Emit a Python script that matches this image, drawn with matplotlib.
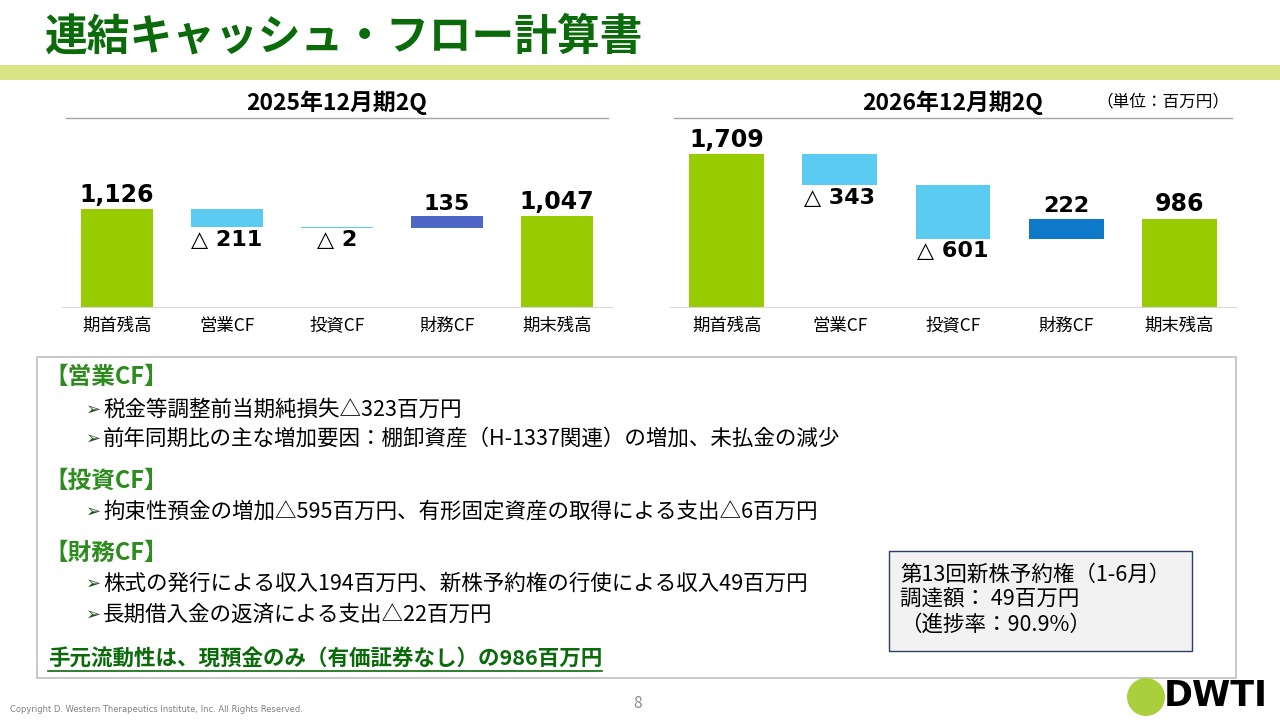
import matplotlib
matplotlib.use('Agg')
import matplotlib.pyplot as plt
from matplotlib.patches import Rectangle, Ellipse
from matplotlib.lines import Line2D

plt.rcParams['font.family'] = ['Noto Sans CJK JP', 'DejaVu Sans']

# data
cats = ['期首残高', '営業CF', '投資CF', '財務CF', '期末残高']
flows_2025 = [1126, -211, -2, 135, 1047]
flows_2026 = [1709, -343, -601, 222, 986]
period_titles = ['2025年12月期2Q', '2026年12月期2Q']

op_lines = ['税金等調整前当期純損失△323百万円',
            '前年同期比の主な増加要因：棚卸資産（H-1337関連）の増加、未払金の減少']
inv_lines = ['拘束性預金の増加△595百万円、有形固定資産の取得による支出△6百万円']
fin_lines = ['株式の発行による収入194百万円、新株予約権の行使による収入49百万円',
             '長期借入金の返済による支出△22百万円']
summary = '手元流動性は、現預金のみ（有価証券なし）の986百万円'
note_lines = ['第13回新株予約権（1-6月）', '調達額： 49百万円', '（進捗率：90.9%）']

W, H = 1280, 720
GREEN = '#99CC00'
NEG = '#5BCBF2'
DARK_GREEN = '#0B6B0B'
HEAD_GREEN = '#2E8B1E'


def fx(x):
    return x / W


def fy(y):
    return 1 - y / H


fig = plt.figure(figsize=(12.8, 7.2), dpi=100)
fig.patch.set_facecolor('white')

# header
fig.text(fx(45), fy(37), '連結キャッシュ・フロー計算書', fontsize=30.8, fontweight='bold',
         color=DARK_GREEN, va='center', ha='left')
fig.add_artist(Rectangle((0, fy(80)), 1, 15 / H, transform=fig.transFigure,
                         color='#D7E587', lw=0))


def waterfall(left, right, ymax, flows, pos_color, title):
    ax = fig.add_axes([fx(left), fy(307), fx(right - left), 187 / H])
    xs = range(len(flows))
    running = 0
    for i, v in enumerate(flows):
        if i == 0 or i == len(flows) - 1:
            running = v if i == 0 else running
            ax.bar(i, v, width=0.66, color=GREEN)
            ax.text(i, v + ymax * 0.012, f'{v:,}', ha='center', va='bottom',
                    fontsize=17, fontweight='bold', family=['DejaVu Sans'])
        else:
            start = running
            running = running + v
            if v < 0:
                ax.bar(i, -v, bottom=running, width=0.66, color=NEG)
                ax.text(i, running - ymax * 0.015, f'△ {-v:,}', ha='center', va='top',
                        fontsize=16, fontweight='bold', family=['DejaVu Sans'])
            else:
                ax.bar(i, v, bottom=start, width=0.66, color=pos_color)
                ax.text(i, running + ymax * 0.012, f'{v:,}', ha='center', va='bottom',
                        fontsize=16, fontweight='bold', family=['DejaVu Sans'])
    ax.set_xlim(-0.5, len(flows) - 0.5)
    ax.set_ylim(0, ymax)
    ax.set_xticks(list(xs))
    ax.set_xticklabels(cats, fontsize=12.5)
    ax.tick_params(axis='x', length=0, pad=7)
    ax.set_yticks([])
    for s in ['top', 'left', 'right']:
        ax.spines[s].set_visible(False)
    ax.spines['bottom'].set_color('#D9D9D9')
    ax.patch.set_alpha(0)
    cx = (left + right) / 2
    fig.text(fx(cx), fy(103), title, fontsize=16.5, fontweight='bold', ha='center', va='center')
    fig.add_artist(Line2D([fx(left + 4), fx(right - 4)], [fy(118), fy(118)],
                          transform=fig.transFigure, color='#A6A6A6', lw=1))
    return ax


waterfall(62, 612, 2149, flows_2025, '#4F66C9', period_titles[0])
waterfall(670, 1236, 2089, flows_2026, '#0E78C9', period_titles[1])
fig.text(fx(1229), fy(102), '（単位：百万円）', fontsize=12, ha='right', va='center')

# commentary box
fig.add_artist(Rectangle((fx(37), fy(678)), fx(1236 - 37), (678 - 357) / H,
                         transform=fig.transFigure, fill=False, ec='#BFBFBF', lw=1.2))


def heading(y, s):
    fig.text(fx(44), fy(y), s, fontsize=17, fontweight='bold', color=HEAD_GREEN, va='center')


def bullet(y, s):
    fig.text(fx(86), fy(y), '➢', fontsize=13, color='#1F4F1F', va='center',
             family=['DejaVu Sans'])
    fig.text(fx(103), fy(y), s, fontsize=15.5, va='center')


heading(377, '【営業CF】')
for y, s in zip([410, 439], op_lines):
    bullet(y, s)
heading(481, '【投資CF】')
for y, s in zip([512], inv_lines):
    bullet(y, s)
heading(553, '【財務CF】')
for y, s in zip([584, 615], fin_lines):
    bullet(y, s)

st = fig.text(fx(48), fy(658), summary, fontsize=15.5, fontweight='bold',
              color=DARK_GREEN, va='center')
fig.canvas.draw()
bb = st.get_window_extent()
fig.add_artist(Line2D([bb.x0 / W, bb.x1 / W], [fy(671), fy(671)],
                      transform=fig.transFigure, color=DARK_GREEN, lw=1.2))

# note box
fig.add_artist(Rectangle((fx(889), fy(651)), fx(1192 - 889), 100 / H,
                         transform=fig.transFigure, fc='#F2F2F2', ec='#2F3B6B', lw=1))
for y, s in zip([575, 600, 625], note_lines):
    fig.text(fx(900), fy(y), s, fontsize=15.5, va='center')

# footer
fig.text(fx(10), fy(710), 'Copyright D. Western Therapeutics Institute, Inc. All Rights Reserved.',
         fontsize=6, color='#808080', va='center', family=['Liberation Sans Narrow', 'DejaVu Sans'])
fig.text(fx(638), fy(703), '8', fontsize=11, color='#8C8C8C', ha='center', va='center')
fig.add_artist(Ellipse((fx(1146), fy(697)), 38 / W, 38 / H, transform=fig.transFigure,
                       color='#A9CF3C', lw=0))
fig.text(fx(1164), fy(696), 'DWTI', fontsize=25, fontweight='bold', va='center',
         family=['Liberation Sans Narrow', 'DejaVu Sans'])

fig.savefig('out.png', dpi=100)
